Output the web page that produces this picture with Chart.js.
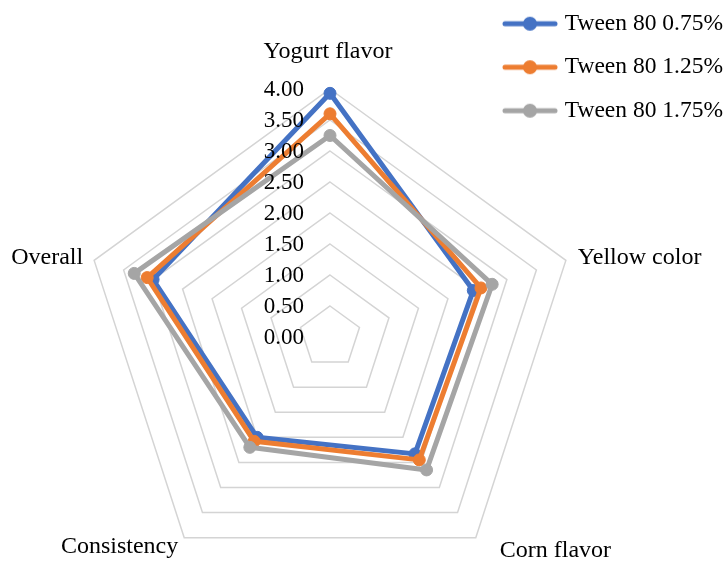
<!DOCTYPE html>
<html>
<head>
<meta charset="utf-8">
<script src="https://cdn.jsdelivr.net/npm/chart.js@4.4.1/dist/chart.umd.min.js"></script>
<style>
  html, body { margin: 0; padding: 0; background: #fff; }
  canvas { display: block; }
</style>
</head>
<body>
<canvas id="sensoryChart" width="727" height="562"></canvas>
<script>
// sensory scores per attribute
const attributes = ['Yogurt flavor', 'Yellow color', 'Corn flavor', 'Consistency', 'Overall'];
const seriesNames = ['Tween 80 0.75%', 'Tween 80 1.25%', 'Tween 80 1.75%'];
const tween075 = [3.93, 2.43, 2.33, 2.00, 3.00];
const tween125 = [3.60, 2.56, 2.45, 2.08, 3.10];
const tween175 = [3.25, 2.75, 2.65, 2.20, 3.32];
const scaleMin = 0;
const scaleMax = 4;
const scaleStep = 0.5;

const colors = ['#4472C4', '#ED7D31', '#A5A5A5'];
const fontFamily = '"Liberation Serif", "Times New Roman", serif';
const fontSize = 24;

// plot placement
const center = { x: 330, y: 337 };
const radius = 248;
// point label offset from each spoke tip: dx, dy (text middle), alignment
const labelOffsets = [
  [-2, -37, 'center'],
  [12, -3, 'left'],
  [24, 13, 'left'],
  [-6, 9, 'right'],
  [-11, -3, 'right']
];

// little "line with a dot" icon for the legend
function legendIcon(color) {
  const c = document.createElement('canvas');
  c.width = 56;
  c.height = 16;
  const g = c.getContext('2d');
  g.strokeStyle = color;
  g.lineWidth = 5;
  g.lineCap = 'round';
  g.beginPath();
  g.moveTo(3, 8);
  g.lineTo(53, 8);
  g.stroke();
  g.fillStyle = color;
  g.beginPath();
  g.arc(28, 8, 7, 0, Math.PI * 2);
  g.fill();
  return c;
}

// value labels sit left of the vertical axis, on top of the lines, like in Excel
const tickLabels = {
  id: 'tickLabels',
  afterDatasetsDraw(chart) {
    const scale = chart.scales.r;
    const ctx = chart.ctx;
    ctx.save();
    ctx.font = (fontSize - 1) + 'px ' + fontFamily;
    ctx.fillStyle = '#000';
    ctx.textAlign = 'right';
    ctx.textBaseline = 'middle';
    scale.ticks.forEach(t => {
      const y = scale.yCenter - scale.getDistanceFromCenterForValue(t.value);
      ctx.fillText(t.label, scale.xCenter - 26, y + 1);
    });
    ctx.restore();
  }
};

// move the legend to the top right corner, over the plot area
const legendPlacer = {
  id: 'legendPlacer',
  afterLayout(chart) {
    chart.legend.left = 487;
    chart.legend.top = -8;
  }
};

const datasets = [tween075, tween125, tween175].map((values, i) => ({
  label: seriesNames[i],
  data: values,
  borderColor: colors[i],
  backgroundColor: colors[i],
  pointBackgroundColor: colors[i],
  pointBorderColor: colors[i],
  pointRadius: 6,
  pointBorderWidth: 1,
  borderWidth: 5,
  borderJoinStyle: 'round',
  fill: false,
  order: 2 - i
}));

const ctx = document.getElementById('sensoryChart');
new Chart(ctx, {
  type: 'radar',
  data: {
    labels: attributes,
    datasets: datasets
  },
  plugins: [tickLabels, legendPlacer],
  options: {
    responsive: false,
    animation: false,
    layout: { padding: 0 },
    elements: { line: { tension: 0 } },
    plugins: {
      tooltip: { enabled: false },
      legend: {
        position: 'chartArea',
        align: 'start',
        labels: {
          usePointStyle: true,
          pointStyleWidth: 46,
          padding: 20,
          color: '#000',
          font: { family: fontFamily, size: 23.5 },
          sort: (a, b) => a.datasetIndex - b.datasetIndex,
          generateLabels(chart) {
            const items = Chart.defaults.plugins.legend.labels.generateLabels(chart);
            items.forEach(it => { it.pointStyle = legendIcon(colors[it.datasetIndex]); });
            return items;
          }
        }
      }
    },
    scales: {
      r: {
        min: scaleMin,
        max: scaleMax,
        ticks: {
          stepSize: scaleStep,
          display: false,
          callback: v => v.toFixed(2)
        },
        grid: { color: '#d4d4d4', lineWidth: 1.5 },
        angleLines: { display: false },
        pointLabels: {
          color: '#000',
          font: { family: fontFamily, size: fontSize }
        },
        afterFit(scale) {
          scale.xCenter = center.x;
          scale.yCenter = center.y;
          scale.drawingArea = radius;
          const lh = fontSize * 1.2;
          scale._pointLabelItems = attributes.map((name, i) => {
            const tip = scale.getPointPosition(i, radius);
            const [dx, dy, align] = labelOffsets[i];
            const x = tip.x + dx;
            const top = tip.y + dy - lh / 2;
            return { visible: true, x: x, y: top, textAlign: align, left: x, right: x, top: top, bottom: top + lh };
          });
        }
      }
    }
  }
});
</script>
</body>
</html>
